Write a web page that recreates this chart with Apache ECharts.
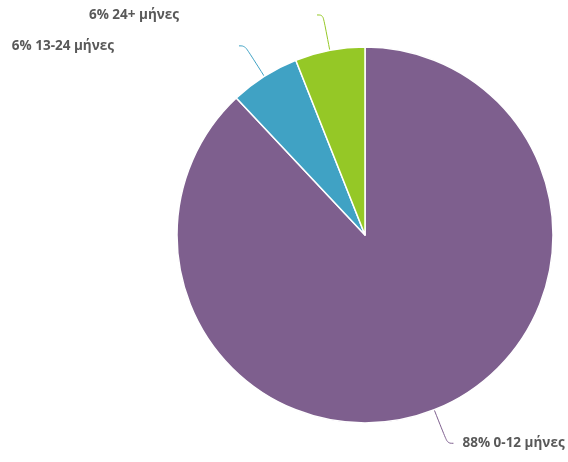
<!DOCTYPE html>
<html><head><meta charset="utf-8">
<script src="https://cdn.jsdelivr.net/npm/echarts@6/dist/echarts.min.js"></script>
<style>html,body{margin:0;padding:0;background:#fff}#c{width:568px;height:462px}</style>
</head><body><div id="c"></div>
<script>
var categories = ['0-12 μήνες', '13-24 μήνες', '24+ μήνες'];
var values = [88, 6, 6];
var colors = ['#7e5f8e', '#40a2c4', '#95c826'];
var labelPads = [[0, 0, 0, 4], [0, 120, 0, 0], [0, 133, 0, 0]];

var chart = echarts.init(document.getElementById('c'));
chart.setOption({
  animation: false,
  series: [{
    type: 'pie',
    center: [365, 235],
    radius: 188,
    startAngle: 90,
    clockwise: true,
    avoidLabelOverlap: false,
    itemStyle: { borderColor: '#fff', borderWidth: 1.5 },
    label: {
      show: true,
      formatter: '{c}% {b}',
      fontFamily: 'Open Sans',
      fontWeight: 'bold',
      fontSize: 13.5,
      color: '#595959'
    },
    labelLine: { show: true, length: 36, length2: 6, smooth: 0.4, lineStyle: { width: 1 } },
    data: categories.map(function (c, i) {
      return {
        name: c, value: values[i],
        itemStyle: { color: colors[i] },
        label: { padding: labelPads[i] }
      };
    })
  }]
});
</script></body></html>
